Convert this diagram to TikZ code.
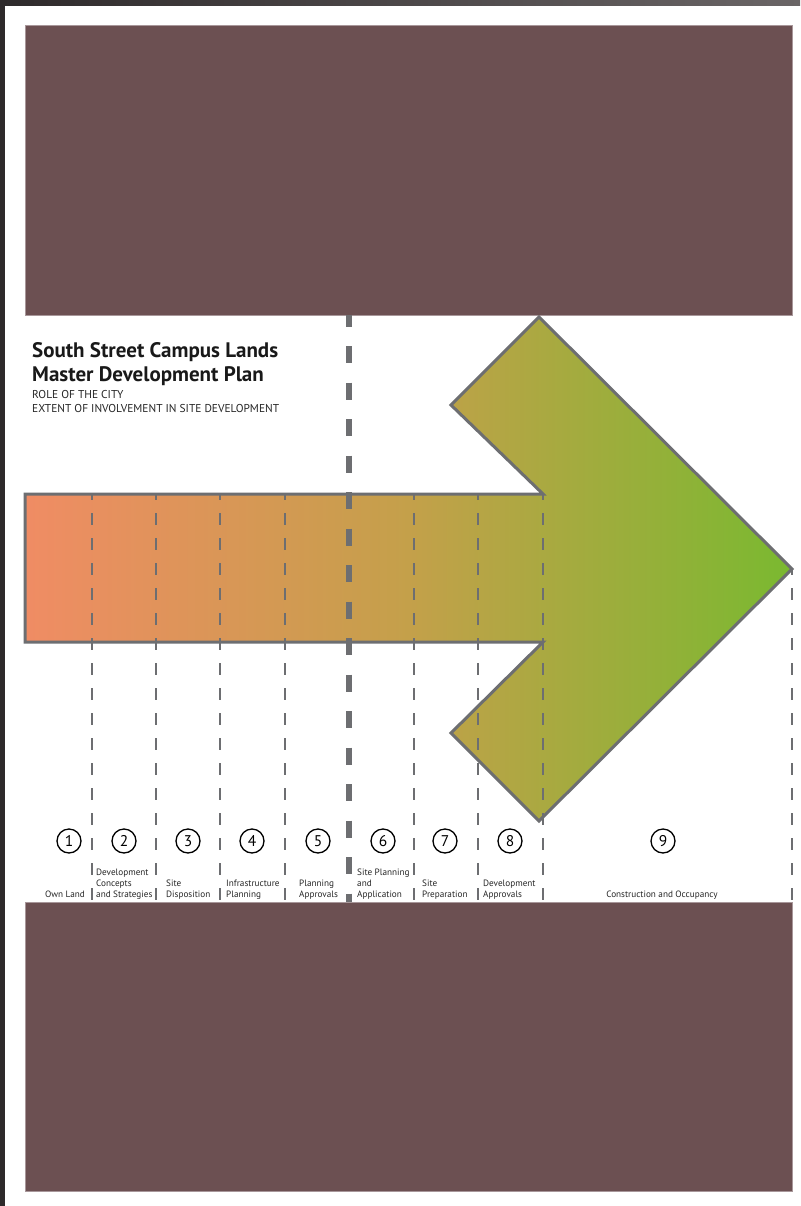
\documentclass[tikz,border=0pt]{standalone}
\usepackage{fontspec}
\setmainfont{PT Sans}
\usetikzlibrary{positioning}
\definecolor{maroon}{HTML}{6C5052}
\definecolor{maroonedge}{HTML}{A8979A}
\definecolor{linegray}{HTML}{6D6E71}
\definecolor{startorange}{HTML}{F08C64}
\definecolor{midochre}{HTML}{C4A04A}
\definecolor{endgreen}{HTML}{7AB930}
\definecolor{framedark}{HTML}{2E2A2B}
\definecolor{framelight}{HTML}{6A6566}
\tikzset{
  band/.style={fill=maroon, draw=maroonedge, line width=.6pt},
  arrowbody/.style={draw=linegray, line width=3pt, left color=startorange, right color=endgreen, middle color=midochre},
  sep/.style={draw=linegray, line width=1.8pt, dash pattern=on 12pt off 13pt, dash phase=6pt},
  bigsep/.style={draw=linegray, line width=5.5pt, dash pattern=on 17pt off 19.5pt, dash phase=5.5pt},
  num/.style={circle, draw, line width=1.3pt, minimum size=24pt, inner sep=0pt, font=\fontsize{15.5}{15.5}\selectfont},
  lbl/.style={inner sep=0pt, align=left, font=\fontsize{9.2}{11}\selectfont, text=black!85},
  ttl/.style={inner sep=0pt, align=left, font=\bfseries\fontsize{21}{23.5}\selectfont, text=black!90},
  sub/.style={inner sep=0pt, align=left, font=\fontsize{11.4}{13.5}\selectfont, text=black!85},
}
\begin{document}
\begin{tikzpicture}[x=1pt, y=-1pt]
        \useasboundingbox (0,0) rectangle (800,1206);
        \fill[white] (0,0) rectangle (800,1206);
        % page frame
        \fill[framedark] (0,0) rectangle (5,1206);
        \shade[left color=framedark, right color=framelight] (0,0) rectangle (800,6);
        % top and bottom bands
        \draw[band] (25,25) rectangle (792,315);
        \draw[band] (25,902) rectangle (792,1191);
        % the arrow
        \draw[arrowbody] (25,494) -- (543,494) -- (451,405) -- (539,317) -- (792,569)
          -- (539,821) -- (451,733) -- (543,642) -- (25,642) -- cycle;
        % stage separators
        \draw[sep] (92,494) -- (92,902);
        \draw[sep] (156,494) -- (156,902);
        \draw[sep] (220,494) -- (220,902);
        \draw[sep] (285,494) -- (285,902);
        \draw[sep] (414,494) -- (414,902);
        \draw[sep] (478,494) -- (478,902);
        \draw[sep] (543,494) -- (543,902);
        \draw[sep] (792,569) -- (792,902);
        \draw[bigsep] (349,315) -- (349,902);
        % heading (anchored on the last baseline)
        \node[ttl, anchor=base west] (title) at (32,381) {South Street Campus Lands\\Master Development Plan};
        \node[sub, anchor=base west] (sub) at (32,412) {ROLE OF THE CITY\\EXTENT OF INVOLVEMENT IN SITE DEVELOPMENT};
        % stage numbers
        \node[num] (c1) at (69,841) {1};
        \node[num] (c2) at (124,841) {2};
        \node[num] (c3) at (188,841) {3};
        \node[num] (c4) at (252,841) {4};
        \node[num] (c5) at (318,841) {5};
        \node[num] (c6) at (383,841) {6};
        \node[num] (c7) at (445,841) {7};
        \node[num] (c8) at (510,841) {8};
        \node[num] (c9) at (663,841) {9};
        % stage names
        \node[lbl, anchor=base east] (l1) at (85,897) {Own Land};
        \node[lbl, anchor=base west] (l2) at (96,897) {Development\\Concepts\\and Strategies};
        \node[lbl, anchor=base west] (l3) at (166,897) {Site\\Disposition};
        \node[lbl, anchor=base west] (l4) at (226,897) {Infrastructure\\Planning};
        \node[lbl, anchor=base west] (l5) at (299,897) {Planning\\Approvals};
        \node[lbl, anchor=base west] (l6) at (357,897) {Site Planning\\and\\Application};
        \node[lbl, anchor=base west] (l7) at (422,897) {Site\\Preparation};
        \node[lbl, anchor=base west] (l8) at (483,897) {Development\\Approvals};
        \node[lbl, anchor=base] (l9) at (662,897) {Construction and Occupancy};
      \end{tikzpicture}
\end{document}
